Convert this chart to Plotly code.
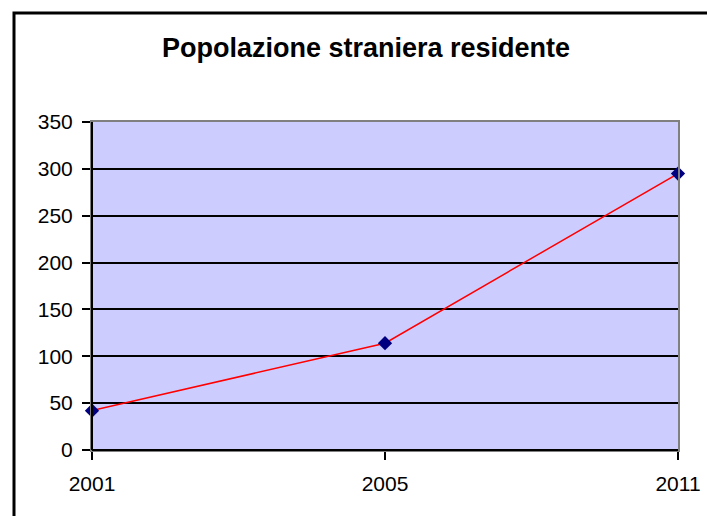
import plotly.graph_objects as go

# Dati: popolazione straniera residente
anni = ['2001', '2005', '2011']
stranieri = [42, 114, 295]
y_ticks = [0, 50, 100, 150, 200, 250, 300, 350]

fig = go.Figure()

fig.add_trace(go.Scatter(
    x=anni,
    y=stranieri,
    mode='lines+markers',
    line=dict(color='#ff0000', width=1.5),
    marker=dict(symbol='diamond', size=11, color='#000080'),
    showlegend=False,
    cliponaxis=False
))

font_base = dict(family='Liberation Sans, Arial, sans-serif', color='black')

fig.update_layout(
    width=707,
    height=516,
    margin=dict(l=92, r=29, t=122, b=66),
    paper_bgcolor='white',
    plot_bgcolor='#ccccff',
    title=dict(
        text='<b>Popolazione straniera residente</b>',
        font=dict(size=27, **font_base),
        x=0.4676, xref='paper', xanchor='center',
        y=0.907, yref='container', yanchor='middle'
    ),
    font=dict(size=21, **font_base),
    xaxis=dict(
        type='category',
        range=[0, 2],
        automargin=False,
        showgrid=False,
        showline=True, linecolor='#808080', linewidth=2, mirror=True,
        ticks='outside', ticklen=8, tickcolor='black', tickwidth=1.5,
        tickfont=dict(size=21, **font_base),
        ticklabelstandoff=6,
        fixedrange=True
    ),
    yaxis=dict(
        range=[0, 350],
        tickvals=y_ticks,
        automargin=False,
        showgrid=True, gridcolor='black', gridwidth=1.5,
        zeroline=False,
        showline=True, linecolor='#808080', linewidth=2, mirror=True,
        ticks='outside', ticklen=8, tickcolor='black', tickwidth=1.5,
        tickfont=dict(size=21, **font_base),
        ticklabelstandoff=5,
        fixedrange=True
    ),
    shapes=[
        # asse sinistro e asse inferiore neri
        dict(type='line', xref='paper', yref='paper', x0=0, x1=0, y0=0, y1=1,
             line=dict(color='black', width=2), layer='above'),
        dict(type='line', xref='paper', yref='paper', x0=0, x1=1, y0=0, y1=0,
             line=dict(color='black', width=2), layer='above'),
        # cornice esterna
        dict(type='rect', xref='paper', yref='paper',
             x0=-0.1331, x1=1.0546, y0=-0.213, y1=1.332,
             line=dict(color='black', width=3), fillcolor='rgba(0,0,0,0)',
             layer='above')
    ]
)

fig.write_html(
    "out.html",
    config={'displayModeBar': False},
    post_script="document.body.style.margin='0';document.body.style.overflow='hidden';"
)
